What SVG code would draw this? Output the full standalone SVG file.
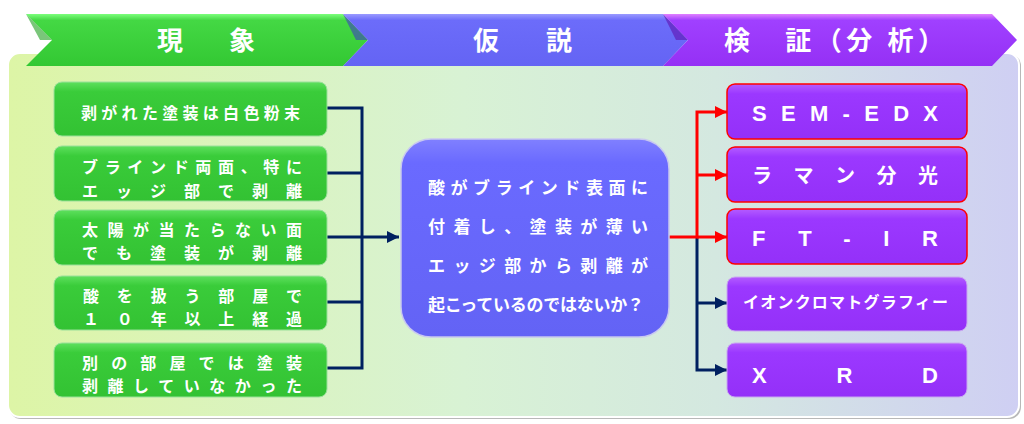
<svg xmlns="http://www.w3.org/2000/svg" width="1024" height="424" viewBox="0 0 1024 424">
<defs>
<style>
.t{font-family:"Noto Sans CJK JP","Noto Sans",sans-serif;font-weight:bold;fill:#fff;}
.h{font-size:26px;}
.l{font-size:16px;}
.c{font-size:17px;}
.r{font-size:22px;font-family:"Liberation Sans","Noto Sans CJK JP",sans-serif;font-weight:bold;fill:#fff;}
.nv{stroke:#002060;stroke-width:3;fill:none;}
.rd{stroke:#FF0000;stroke-width:3;fill:none;}
</style>
<linearGradient id="panel" x1="0" y1="0" x2="1" y2="0">
<stop offset="0" stop-color="#DDF5A6"/>
<stop offset="0.45" stop-color="#D8F2D4"/>
<stop offset="0.7" stop-color="#D4E8E0"/>
<stop offset="1" stop-color="#CFCFF3"/>
</linearGradient>
<linearGradient id="gG" x1="0" y1="0" x2="0" y2="1">
<stop offset="0" stop-color="#5EE05E"/>
<stop offset="0.18" stop-color="#3ACC3A"/>
<stop offset="1" stop-color="#33C233"/>
</linearGradient>
<linearGradient id="gB" x1="0" y1="0" x2="0" y2="1">
<stop offset="0" stop-color="#8080FF"/>
<stop offset="0.12" stop-color="#6A6AFF"/>
<stop offset="1" stop-color="#6363F5"/>
</linearGradient>
<linearGradient id="gP" x1="0" y1="0" x2="0" y2="1">
<stop offset="0" stop-color="#B45CFF"/>
<stop offset="0.18" stop-color="#9B38FF"/>
<stop offset="1" stop-color="#9430F8"/>
</linearGradient>
<linearGradient id="bG" x1="0" y1="0" x2="0" y2="1">
<stop offset="0" stop-color="#7CFF7C"/>
<stop offset="0.12" stop-color="#44D844"/>
<stop offset="1" stop-color="#33C833"/>
</linearGradient>
<linearGradient id="bB" x1="0" y1="0" x2="0" y2="1">
<stop offset="0" stop-color="#9A9AFF"/>
<stop offset="0.12" stop-color="#6C6CFA"/>
<stop offset="1" stop-color="#6464F4"/>
</linearGradient>
<linearGradient id="bP" x1="0" y1="0" x2="0" y2="1">
<stop offset="0" stop-color="#E080FF"/>
<stop offset="0.12" stop-color="#A040FF"/>
<stop offset="1" stop-color="#9530F5"/>
</linearGradient>
<marker id="an" viewBox="0 0 10 10" refX="10" refY="5" markerWidth="4" markerHeight="4" markerUnits="strokeWidth" orient="auto">
<path d="M0,0 L10,5 L0,10 z" fill="#002060"/>
</marker>
<marker id="ar" viewBox="0 0 10 10" refX="10" refY="5" markerWidth="4" markerHeight="4" markerUnits="strokeWidth" orient="auto">
<path d="M0,0 L10,5 L0,10 z" fill="#FF0000"/>
</marker>
</defs>
<rect width="1024" height="424" fill="#FFFFFF"/>
<g id="panel-bg">
<rect x="9" y="54" width="1012" height="365" rx="12" fill="#B8B8B8"/>
<rect x="8" y="53" width="1011" height="364" rx="12" fill="url(#panel)" stroke="#FFFFFF" stroke-width="2"/>
</g>
<g id="banner">
<g id="banner-green">
<path d="M26,14 H343 L368,40 L343,66 H26 L52,40 Z" fill="url(#bG)"/>
<path d="M26,14 L52,40 L40,40 Z" fill="#22A022" opacity="0.6"/>
<text class="t h" x="157" y="50" textLength="98" lengthAdjust="spacing">現象</text>
</g>
<g id="banner-blue">
<path d="M343,14 H663 L688,40 L663,66 H343 L368,40 Z" fill="url(#bB)"/>
<path d="M343,14 L368,40 L356,40 Z" fill="#4040C0" opacity="0.6"/>
<text class="t h" x="473" y="50" textLength="99" lengthAdjust="spacing">仮説</text>
</g>
<g id="banner-purple">
<path d="M663,14 H992 L1017,40 L992,66 H663 L688,40 Z" fill="url(#bP)"/>
<path d="M663,14 L688,40 L676,40 Z" fill="#6010B0" opacity="0.6"/>
<text class="t h" x="724" y="50" textLength="220" lengthAdjust="spacing">検　証（分 析）</text>
</g>
</g>
<g id="connectors">
<path class="nv" d="M327,108 H362 V368 H327"/>
<path class="nv" d="M327,173 H362"/>
<path class="nv" d="M327,302 H362"/>
<path class="nv" d="M327,237 H399" marker-end="url(#an)"/>
<path class="nv" d="M697,237 V370 H727" marker-end="url(#an)"/>
<path class="nv" d="M697,303 H727" marker-end="url(#an)"/>
<path class="rd" d="M669,237 H697 V112 H727" marker-end="url(#ar)"/>
<path class="rd" d="M697,175 H727" marker-end="url(#ar)"/>
<path class="rd" d="M697,237 H727" marker-end="url(#ar)"/>
</g>
<g id="obs1">
<rect x="54" y="82" width="273" height="54" rx="8" fill="url(#gG)" stroke="#9AE09A" stroke-width="1"/>
<text class="t l" x="81" y="119" textLength="219" lengthAdjust="spacing">剥がれた塗装は白色粉末</text>
</g>
<g id="obs2">
<rect x="54" y="146" width="273" height="55" rx="8" fill="url(#gG)" stroke="#9AE09A" stroke-width="1"/>
<text class="t l" x="82" y="173" textLength="220" lengthAdjust="spacing">ブラインド両面、特に</text>
<text class="t l" x="82" y="197" textLength="220" lengthAdjust="spacing">エッジ部で剥離</text>
</g>
<g id="obs3">
<rect x="54" y="210" width="273" height="55" rx="8" fill="url(#gG)" stroke="#9AE09A" stroke-width="1"/>
<text class="t l" x="82" y="236" textLength="220" lengthAdjust="spacing">太陽が当たらない面</text>
<text class="t l" x="82" y="259" textLength="220" lengthAdjust="spacing">でも塗装が剥離</text>
</g>
<g id="obs4">
<rect x="54" y="276" width="273" height="54" rx="8" fill="url(#gG)" stroke="#9AE09A" stroke-width="1"/>
<text class="t l" x="83" y="302" textLength="219" lengthAdjust="spacing">酸を扱う部屋で</text>
<text class="t l" x="83" y="325" textLength="219" lengthAdjust="spacing">１０年以上経過</text>
</g>
<g id="obs5">
<rect x="54" y="343" width="273" height="54" rx="8" fill="url(#gG)" stroke="#9AE09A" stroke-width="1"/>
<text class="t l" x="82" y="369" textLength="220" lengthAdjust="spacing">別の部屋では塗装</text>
<text class="t l" x="82" y="392" textLength="220" lengthAdjust="spacing">剥離していなかった</text>
</g>
<g id="hypothesis">
<rect x="401" y="139" width="268" height="198" rx="30" fill="url(#gB)" stroke="#C8C8F0" stroke-width="1.5"/>
<text class="t c" x="428" y="194" textLength="220" lengthAdjust="spacing">酸がブラインド表面に</text>
<text class="t c" x="428" y="233" textLength="220" lengthAdjust="spacing">付着し、塗装が薄い</text>
<text class="t c" x="428" y="272" textLength="220" lengthAdjust="spacing">エッジ部から剥離が</text>
<text class="t c" x="428" y="311" textLength="216" lengthAdjust="spacing">起こっているのではないか？</text>
</g>
<g id="m1">
<rect x="727" y="84" width="240" height="55" rx="8" fill="url(#gP)" stroke="#FF0000" stroke-width="1.5"/>
<text class="r" x="752" y="121" textLength="186" lengthAdjust="spacing">SEM-EDX</text>
</g>
<g id="m2">
<rect x="727" y="147" width="240" height="55" rx="8" fill="url(#gP)" stroke="#FF0000" stroke-width="1.5"/>
<text class="t" style="font-size:20px" x="752" y="183" textLength="186" lengthAdjust="spacing">ラマン分光</text>
</g>
<g id="m3">
<rect x="727" y="209" width="240" height="55" rx="8" fill="url(#gP)" stroke="#FF0000" stroke-width="1.5"/>
<text class="r" x="752" y="246" textLength="186" lengthAdjust="spacing">FT-IR</text>
</g>
<g id="m4">
<rect x="727" y="277" width="240" height="54" rx="8" fill="url(#gP)" stroke="#C9A8F0" stroke-width="1"/>
<text class="t" style="font-size:16px" x="743" y="308" textLength="205" lengthAdjust="spacing">イオンクロマトグラフィー</text>
</g>
<g id="m5">
<rect x="727" y="343" width="240" height="54" rx="8" fill="url(#gP)" stroke="#C9A8F0" stroke-width="1"/>
<text class="r" x="752" y="383" textLength="186" lengthAdjust="spacing">XRD</text>
</g>
</svg>
